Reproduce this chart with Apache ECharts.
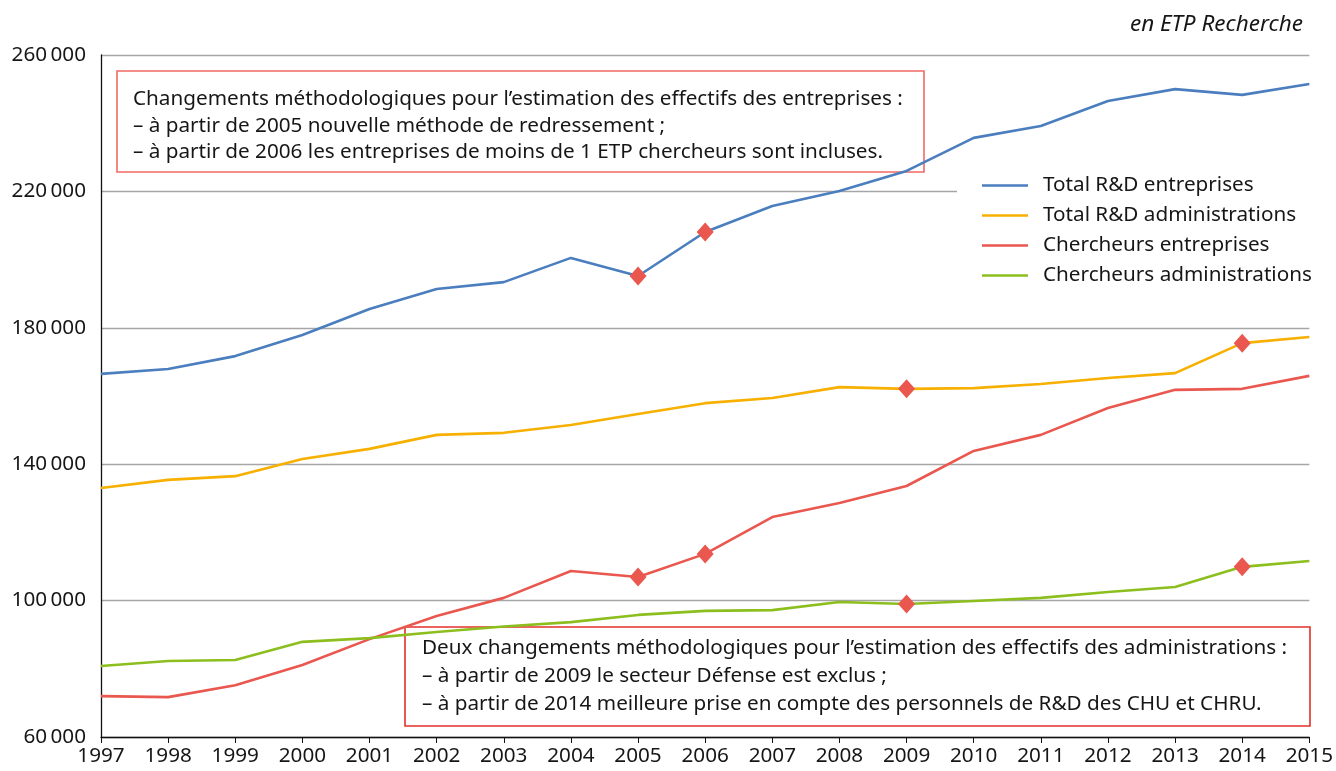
<!DOCTYPE html>
<html>
<head>
<meta charset="utf-8">
<script src="https://cdn.jsdelivr.net/npm/echarts@6/dist/echarts.min.js"></script>
<style>
html,body{margin:0;padding:0;background:#fff;}
#chart{width:1336px;height:771px;}
</style>
</head>
<body>
<div id="chart"></div>
<script>
const years = ['1997','1998','1999','2000','2001','2002','2003','2004','2005','2006','2007','2008','2009','2010','2011','2012','2013','2014','2015'];
const totalEntreprises = [166500,167900,171700,177900,185500,191400,193400,200500,195200,208100,215700,220100,226000,235700,239200,246500,250000,248300,251500];
const totalAdministrations = [133000,135400,136500,141500,144500,148600,149200,151500,154700,157900,159400,162600,162100,162300,163500,165300,166700,175500,177300];
const chercheursEntreprises = [72000,71700,75200,81100,88700,95500,100800,108700,106900,113700,124500,128600,133600,143900,148600,156500,161800,162100,165900];
const chercheursAdministrations = [80800,82300,82600,87900,89000,90800,92400,93700,95800,97000,97200,99600,99000,99900,100800,102500,104000,109900,111600];
const seriesNames = ['Total R&D entreprises','Total R&D administrations','Chercheurs entreprises','Chercheurs administrations'];
const breakYearsEntreprises = ['2005','2006'];
const breakYearsAdministrations = ['2009','2014'];
const yTicks = [60000,100000,140000,180000,220000,260000];
const unitLabel = 'en ETP Recherche';
const noteEntreprises = ['Changements méthodologiques pour l’estimation des effectifs des entreprises :','– à partir de 2005 nouvelle méthode de redressement ;','– à partir de 2006 les entreprises de moins de 1 ETP chercheurs sont incluses.'];
const noteAdministrations = ['Deux changements méthodologiques pour l’estimation des effectifs des administrations :','– à partir de 2009 le secteur Défense est exclus ;','– à partir de 2014 meilleure prise en compte des personnels de R&D des CHU et CHRU.'];

const FONT = '"Noto Sans", sans-serif';
const FS = 20.7;
const TXT = '#161616';
const colors = ['#4a7ebf','#f7b000','#e9574f','#8cbf1e'];
const markerColor = '#e9574f';

function fmt(v){ return String(v).replace(/\B(?=(\d{3})+(?!\d))/g, '\u2009'); }
function markers(values, ys){
  return ys.map(y => [y, values[years.indexOf(y)]]);
}
const lineData = [totalEntreprises,totalAdministrations,chercheursEntreprises,chercheursAdministrations];

const chart = echarts.init(document.getElementById('chart'));
const series = lineData.map((d,i)=>({
  name: seriesNames[i], type:'line', data:d, symbol:'none', z:2,
  lineStyle:{color:colors[i], width:2.6}, itemStyle:{color:colors[i]}
}));
const mk = [
  markers(totalEntreprises, breakYearsEntreprises),
  markers(chercheursEntreprises, breakYearsEntreprises),
  markers(totalAdministrations, breakYearsAdministrations),
  markers(chercheursAdministrations, breakYearsAdministrations)
];
mk.forEach(m=>series.push({type:'scatter', data:m, symbol:'diamond', symbolSize:[17,19], z:3, itemStyle:{color:markerColor, opacity:1}, silent:true}));

chart.setOption({
  animation:false,
  title:{text:unitLabel, right:28, top:8, textStyle:{fontFamily:FONT, fontStyle:'italic', fontWeight:'normal', fontSize:22.5, color:TXT}},
  grid:{left:101, right:25, top:55, bottom:34},
  legend:{
    data:seriesNames, orient:'vertical', left:957, top:169,
    backgroundColor:'#fff', padding:[6,20,8,25], itemGap:9,
    icon:'rect', itemWidth:46, itemHeight:2.6,
    textStyle:{fontFamily:FONT, fontSize:FS, color:TXT, lineHeight:20, padding:[0,0,0,10]}
  },
  xAxis:{type:'category', data:years, boundaryGap:false,
    axisLine:{lineStyle:{color:'#111', width:1.3}},
    axisTick:{show:true, length:6, lineStyle:{color:'#111'}, alignWithLabel:true},
    axisLabel:{fontFamily:FONT, fontSize:FS, color:TXT, margin:9},
    splitLine:{show:false}
  },
  yAxis:{type:'value', min:60000, max:260000, interval:40000,
    axisLine:{show:true, lineStyle:{color:'#111', width:1.3}},
    axisTick:{show:false},
    axisLabel:{fontFamily:FONT, fontSize:FS, color:TXT, margin:15, formatter:v=>yTicks.includes(v)?fmt(v):''},
    splitLine:{lineStyle:{color:'#a6a6a6', width:1.3}}
  },
  graphic:[
    {type:'group', z:100, children:[
      {type:'rect', shape:{x:117, y:71, width:807, height:101}, style:{fill:'#fff', stroke:'#f06a64', lineWidth:1.6}},
      {type:'text', x:133, y:86, style:{text:noteEntreprises.join('\n'), font:FS+'px '+FONT, fill:TXT, lineHeight:26.5}}
    ]},
    {type:'group', z:100, children:[
      {type:'rect', shape:{x:405, y:627, width:905, height:99}, style:{fill:'#fff', stroke:'#e3302a', lineWidth:1.6}},
      {type:'text', x:422, y:634, style:{text:noteAdministrations.join('\n'), font:FS+'px '+FONT, fill:TXT, lineHeight:28}}
    ]}
  ],
  series:series
});
</script>
</body>
</html>
